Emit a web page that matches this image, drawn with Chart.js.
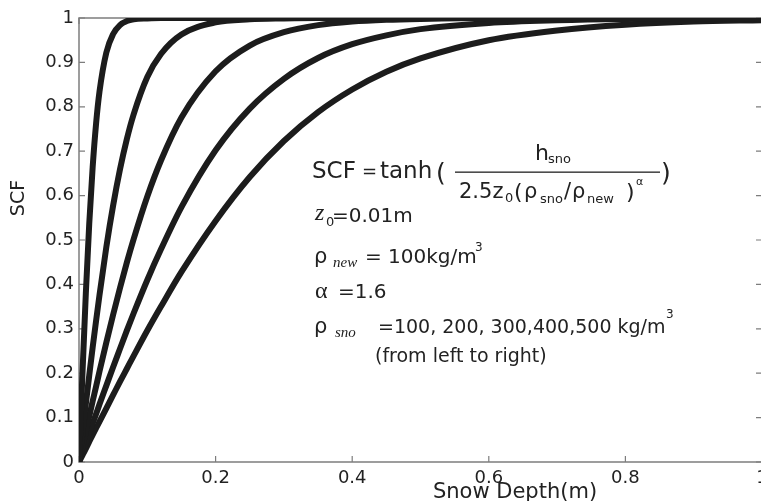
<!DOCTYPE html>
<html>
<head>
<meta charset="utf-8">
<title>SCF vs snow depth</title>
<script src="https://cdn.jsdelivr.net/npm/chart.js@4.4.1/dist/chart.umd.min.js"></script>
<style>
  html, body { margin: 0; padding: 0; background: #fff; overflow: hidden; }
  #wrap { width: 790px; height: 501px; }
</style>
</head>
<body>
<div id="wrap"><canvas id="scf" width="790" height="501"></canvas></div>
<script>
// snow depth (m) sample positions read along the x axis
const depth = [0, 0.005, 0.01, 0.015, 0.02, 0.025, 0.03, 0.04, 0.05, 0.06, 0.07, 0.08,
  0.1, 0.12, 0.15, 0.2, 0.25, 0.3, 0.35, 0.4, 0.45, 0.5, 0.6, 0.7, 0.8, 0.9, 1.0];

// SCF, rho_sno = 100 .. 500 kg/m3 (left to right)
const scf100 = [0, 0.197, 0.380, 0.537, 0.664, 0.762, 0.834, 0.922, 0.964, 0.984, 0.993, 0.997,
  0.999, 1, 1, 1, 1, 1, 1, 1, 1, 1, 1, 1, 1, 1, 1];
const scf200 = [0, 0.066, 0.131, 0.195, 0.258, 0.318, 0.376, 0.484, 0.578, 0.659, 0.727, 0.783,
  0.867, 0.919, 0.963, 0.990, 0.997, 0.999, 1, 1, 1, 1, 1, 1, 1, 1, 1];
const scf300 = [0, 0.034, 0.069, 0.103, 0.137, 0.170, 0.204, 0.269, 0.332, 0.392, 0.449, 0.502,
  0.598, 0.679, 0.776, 0.880, 0.938, 0.968, 0.984, 0.992, 0.996, 0.998, 1, 1, 1, 1, 1];
const scf400 = [0, 0.022, 0.043, 0.065, 0.087, 0.108, 0.130, 0.172, 0.214, 0.255, 0.296, 0.335,
  0.410, 0.479, 0.574, 0.702, 0.796, 0.863, 0.910, 0.941, 0.961, 0.975, 0.989, 0.995, 0.998, 0.999, 1];
const scf500 = [0, 0.015, 0.030, 0.046, 0.061, 0.076, 0.091, 0.121, 0.151, 0.181, 0.210, 0.239,
  0.296, 0.350, 0.428, 0.543, 0.642, 0.723, 0.788, 0.839, 0.879, 0.909, 0.950, 0.972, 0.985, 0.992, 0.995];

const densities = [100, 200, 300, 400, 500];
const curves = [scf100, scf200, scf300, scf400, scf500];

const FONT = 'DejaVu Sans';
const SERIF = 'Liberation Serif';
const INK = '#222';
const AXIS = '#7d7d7d';

// tick text like MATLAB: 0, 0.1 ... 1
const tickText = v => String(Math.round(v * 10) / 10);

// MATLAB style box with inward ticks on all four sides
const boxPlugin = {
  id: 'box',
  beforeDatasetsDraw(chart) {
    const { ctx, chartArea: a, scales } = chart;
    ctx.save();
    ctx.strokeStyle = AXIS;
    ctx.lineWidth = 1.5;
    ctx.strokeRect(a.left, a.top, a.right - a.left, a.bottom - a.top);
    ctx.lineWidth = 1.2;
    ctx.beginPath();
    scales.x.ticks.forEach(t => {
      const px = scales.x.getPixelForValue(t.value);
      ctx.moveTo(px, a.bottom); ctx.lineTo(px, a.bottom - 6);
      ctx.moveTo(px, a.top); ctx.lineTo(px, a.top + 6);
    });
    scales.y.ticks.forEach(t => {
      const py = scales.y.getPixelForValue(t.value);
      ctx.moveTo(a.left, py); ctx.lineTo(a.left + 6, py);
      ctx.moveTo(a.right, py); ctx.lineTo(a.right - 6, py);
    });
    ctx.stroke();
    ctx.restore();
  },
  afterDraw(chart) {
    const { ctx } = chart;
    ctx.save();
    ctx.fillStyle = INK;
    ctx.textBaseline = 'alphabetic';
    const put = (s, x, y, size, fam, style) => {
      ctx.font = (style || '') + ' ' + size + 'px "' + (fam || FONT) + '"';
      ctx.fillText(s, x, y);
    };

    // axis titles
    ctx.textAlign = 'center';
    put('Snow Depth(m)', 515, 498, 21);
    ctx.save();
    ctx.translate(24, 198);
    ctx.rotate(-Math.PI / 2);
    put('SCF', 0, 0, 19);
    ctx.restore();
    ctx.textAlign = 'left';

    // equation
    put('SCF', 312, 178, 23);
    put('=', 362, 177, 18);
    put('tanh', 380, 178, 23);
    put('(', 436, 181, 25);
    put('h', 535, 160, 22);
    put('sno', 548, 163, 13);
    ctx.fillRect(455, 171.5, 205, 1.3);
    put('2.5z', 459, 198, 21);
    put('0', 505, 202, 13);
    put('(', 514, 199, 22);
    put('\u03c1', 524, 198, 21);
    put('sno', 540, 203, 13);
    put('/', 564, 198, 21);
    put('\u03c1', 572, 198, 21);
    put('new', 587, 203, 13);
    put(')', 626, 199, 22);
    put('\u03b1', 636, 185, 11);
    put(')', 661, 181, 25);

    // parameters
    put('z', 315, 220, 24, SERIF, 'italic');
    put('0', 326, 226, 13);
    put('=0.01m', 332, 222, 20);
    put('\u03c1', 314, 263, 21);
    put('new', 333, 267, 15, SERIF, 'italic');
    put('= 100kg/m', 365, 263, 20);
    put('3', 475, 251, 12);
    put('\u03b1', 315, 298, 24, SERIF);
    put('=1.6', 338, 298, 20);
    put('\u03c1', 314, 333, 21);
    put('sno', 335, 337, 15, SERIF, 'italic');
    put('=100, 200, 300,400,500 kg/m', 378, 333, 19);
    put('3', 666, 318, 12);
    put('(from left to right)', 375, 362, 19);
    ctx.restore();
  }
};

const ctx = document.getElementById('scf').getContext('2d');
new Chart(ctx, {
  type: 'line',
  data: {
    datasets: curves.map((vals, k) => ({
      label: densities[k] + ' kg/m3',
      data: depth.map((d, i) => ({ x: d, y: vals[i] })),
      borderColor: '#1c1c1c',
      borderWidth: 6,
      pointRadius: 0,
      fill: false,
      cubicInterpolationMode: 'monotone',
      borderCapStyle: 'round',
      borderJoinStyle: 'round'
    }))
  },
  options: {
    responsive: false,
    animation: false,
    layout: { padding: { top: 18, right: 28, left: 0, bottom: 0 } },
    plugins: {
      legend: { display: false },
      tooltip: { enabled: false }
    },
    scales: {
      x: {
        type: 'linear',
        min: 0,
        max: 1,
        grid: { display: false, drawTicks: false },
        border: { display: false },
        ticks: { stepSize: 0.2, padding: 6, maxRotation: 0, color: INK,
          font: { family: FONT, size: 18 }, callback: tickText },
        afterFit: s => { s.height = 39; }
      },
      y: {
        min: 0,
        max: 1,
        grid: { display: false, drawTicks: false },
        border: { display: false },
        ticks: { stepSize: 0.1, padding: 5, color: INK,
          font: { family: FONT, size: 18 }, callback: tickText },
        afterFit: s => { s.width = 79; }
      }
    }
  },
  plugins: [boxPlugin]
});
</script>
</body>
</html>
